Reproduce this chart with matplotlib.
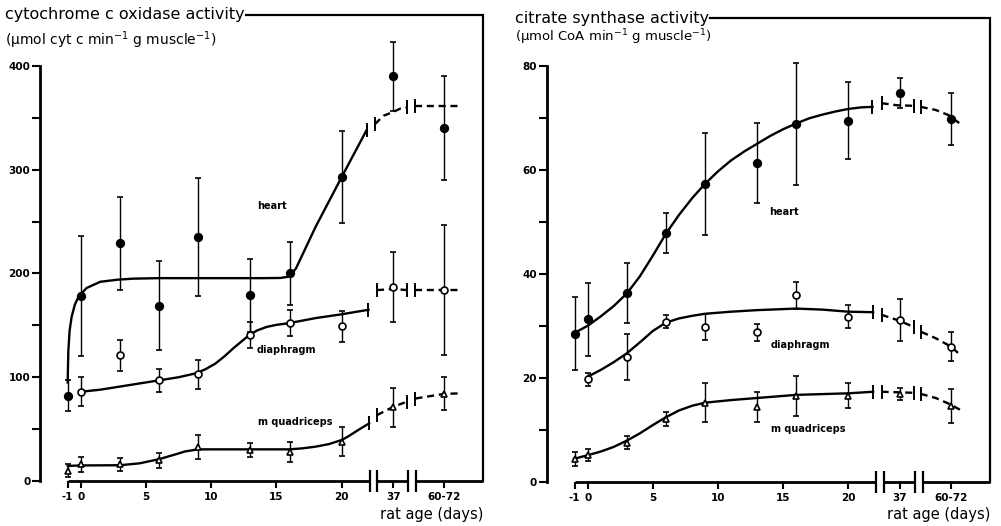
import numpy as np
import matplotlib
matplotlib.use('Agg')
import matplotlib.pyplot as plt

# rat age categories and where they sit on the broken x axis
ages = ['-1', '0', '3', '6', '9', '13', '16', '20', '37', '60-72']
age_pos = [-1, 0, 3, 6, 9, 13, 16, 20, 23.95, 27.85]
tick_labels = ['-1', '0', '5', '10', '15', '20', '37', '60-72']
tick_pos = [-1, 0, 5, 10, 15, 20, 23.95, 27.85]
axis_segments = [(-1, 22.15), (22.7, 25.1), (25.7, 30.85)]
axis_end = 30.85

nan = np.nan

# ---- cytochrome c oxidase activity (left panel) ----
cox_heart = [82, 178, 229, 169, 235, 179, 200, 293, 390, 340]
cox_heart_err = [15, 58, 45, 43, 57, 35, 30, 44, 33, 50]
cox_diaph = [nan, 86, 121, 97, 103, 141, 152, 149, 187, 184]
cox_diaph_err = [nan, 14, 15, 11, 14, 12.5, 12.5, 15, 34, 63]
cox_quad = [10, 16, 16, 20, 33, 30, 28, 38, 71, 84]
cox_quad_err = [6, 7, 6, 7, 11.5, 6.5, 9.5, 14, 18.5, 16]

# fitted curves (solid part, dashed part before and after the second break)
cox_heart_solid_x = [-1.0, -0.95, -0.85, -0.7, -0.45, -0.15, 0.45, 1.5, 2.8, 4, 6, 10, 14, 15.3, 16, 16.5,
                     18, 20, 21.9]
cox_heart_solid_y = [95, 125, 145, 158, 170, 178, 186, 192, 194, 195, 195.5, 195.5, 195.5, 195.7, 197, 205,
                     245, 293, 338]
cox_heart_dash_a_x = [22.55, 23.2, 24.0, 24.5, 25.0]
cox_heart_dash_a_y = [344, 352, 356, 359, 360]
cox_heart_dash_b_x = [25.6, 27.85, 29.2]
cox_heart_dash_b_y = [361, 361, 361]

cox_diaph_solid_x = [0, 1.5, 3, 4.5, 6, 7.5, 8.9, 9.6, 10.3, 11.0, 11.7, 12.85, 13.5, 14.25, 15, 15.9, 18,
                     19.9, 22.05]
cox_diaph_solid_y = [86, 88, 91, 94, 97, 100, 104, 108, 113, 120, 128, 140, 145, 148.5, 150.5, 152, 157,
                     160.5, 165]
cox_diaph_dash_a_x = [22.7, 24.0, 25.0]
cox_diaph_dash_a_y = [184, 185, 184]
cox_diaph_dash_b_x = [25.6, 27.85, 29.2]
cox_diaph_dash_b_y = [184, 184, 184]

cox_quad_solid_x = [-1, 0, 3, 4.5, 6, 7.35, 8, 9, 11, 13, 16, 17, 17.95, 19, 20, 20.5, 21.0, 21.5, 22.1]
cox_quad_solid_y = [14.5, 15, 15.2, 17, 21, 26, 28.5, 30.5, 30.5, 30.5, 30.5, 31.5, 33, 35.5, 39.5, 43,
                    47, 51, 55.5]
cox_quad_dash_a_x = [22.7, 23.95, 25.0]
cox_quad_dash_a_y = [63.5, 71.5, 76.5]
cox_quad_dash_b_x = [25.65, 27.85, 29.2]
cox_quad_dash_b_y = [79.5, 84, 84.5]

# ---- citrate synthase activity (right panel) ----
cs_heart = [28.5, 31.2, 36.3, 47.8, 57.2, 61.3, 68.8, 69.4, 74.7, 69.8]
cs_heart_err = [7, 7, 5.8, 3.8, 9.8, 7.7, 11.7, 7.4, 2.9, 5]
cs_diaph = [nan, 19.7, 24.0, 30.8, 29.8, 28.7, 35.9, 31.7, 31.1, 26.0]
cs_diaph_err = [nan, 1.2, 4.5, 1.3, 2.5, 1.7, 2.6, 2.2, 4, 2.8]
cs_quad = [4.4, 5.1, 7.5, 12.1, 15.2, 14.3, 16.5, 16.5, 16.9, 14.6]
cs_quad_err = [1.3, 1.1, 1.2, 1.3, 3.8, 2.9, 3.8, 2.4, 1.1, 3.3]

cs_heart_solid_x = [-1.1, 0, 1, 2, 3, 4, 5, 6, 7, 8, 9, 10, 11, 12, 13, 14, 15, 16, 17, 18, 19, 20, 21,
                    21.85]
cs_heart_solid_y = [28.5, 30, 31.8, 33.8, 36.2, 39.5, 43.5, 47.7, 51.3, 54.5, 57.3, 59.7, 61.8, 63.5, 65.0,
                    66.5, 67.8, 68.9, 69.9, 70.6, 71.2, 71.7, 72.0, 72.1]
cs_heart_dash_a_x = [22.55, 23.75, 25.0]
cs_heart_dash_a_y = [72.8, 72.4, 72.3]
cs_heart_dash_b_x = [25.55, 26.7, 27.7, 28.6]
cs_heart_dash_b_y = [72.1, 71.5, 70.5, 68.8]

cs_diaph_solid_x = [0, 1, 2, 3, 4, 5, 6, 7, 8, 9, 11, 13, 16, 18, 20, 21.9]
cs_diaph_solid_y = [20.2, 21.5, 23, 24.7, 26.8, 29, 30.6, 31.4, 31.9, 32.3, 32.7, 33.0, 33.3, 33.1, 32.7,
                    32.6]
cs_diaph_dash_a_x = [22.55, 23.75, 25.0]
cs_diaph_dash_a_y = [32.1, 31.1, 29.8]
cs_diaph_dash_b_x = [25.6, 26.7, 27.8, 28.6]
cs_diaph_dash_b_y = [28.8, 27.6, 26.1, 24.4]

cs_quad_solid_x = [-1.05, 0, 1, 2, 3, 4, 5, 6, 7, 8, 9, 11, 13, 16, 20, 21.9]
cs_quad_solid_y = [4.4, 5.1, 5.8, 6.7, 7.9, 9.3, 10.9, 12.4, 13.7, 14.6, 15.2, 15.7, 16.1, 16.7, 17.0, 17.3]
cs_quad_dash_a_x = [22.55, 23.75, 25.0]
cs_quad_dash_a_y = [17.3, 17.2, 17.1]
cs_quad_dash_b_x = [25.55, 26.7, 27.8, 28.6]
cs_quad_dash_b_y = [16.9, 16.1, 14.9, 13.8]

W, H = 1001, 526
fig = plt.figure(figsize=(W / 100, H / 100), dpi=100)
plt.rcParams['font.family'] = 'DejaVu Sans'


def add_px_axes(left, bottom, width, height):
    return fig.add_axes([left / W, 1 - bottom / H, width / W, height / H])


def draw_series(ax, vals, errs, marker, mfc, ms, curve):
    ax.errorbar(age_pos, vals, yerr=errs, fmt=marker, ms=ms, mfc=mfc, mec='k', mew=1.2,
                ecolor='k', elinewidth=1.0, capsize=2.5, capthick=1.0, zorder=3)
    sx, sy, ax_, ay, bx, by = curve
    ax.plot(sx, sy, color='k', lw=1.7, zorder=2)
    ax.plot(ax_, ay, color='k', lw=1.7, ls=(0, (3, 2)), zorder=2)
    ax.plot(bx, by, color='k', lw=1.7, ls=(0, (3, 2)), zorder=2)
    # little bars where the curve is broken
    ax.plot([sx[-1], ax_[0], ax_[-1], bx[0]], [sy[-1], ay[0], ay[-1], by[0]],
            'k|', ms=10, mew=1.4, zorder=2)


def style_axis(ax, ytop, major, minor, frame_y, title):
    for s in ['top', 'right', 'bottom']:
        ax.spines[s].set_visible(False)
    ax.spines['left'].set_linewidth(2)
    ax.spines['left'].set_bounds(0, ytop)
    ax.set_yticks(major)
    ax.set_yticks(minor, minor=True)
    ax.tick_params(axis='y', which='both', direction='out', length=6, width=1.5, pad=1,
                   labelsize=7.5)
    for lab in ax.get_yticklabels():
        lab.set_fontweight('bold')
    ax.set_xticks(tick_pos, tick_labels)
    ax.tick_params(axis='x', direction='out', length=5, width=1.5, pad=3, labelsize=7.5)
    for lab in ax.get_xticklabels():
        lab.set_fontweight('bold')
    for a, b in axis_segments:
        ax.plot([a, b], [0, 0], color='k', lw=2, clip_on=False, solid_capstyle='butt')
    brk = [axis_segments[0][1], axis_segments[1][0], axis_segments[1][1], axis_segments[2][0]]
    ax.plot(brk, [0] * 4, 'k|', ms=16, mew=1.6, clip_on=False)
    # frame from the end of the title round to the x axis
    fig.canvas.draw()
    bb = title.get_window_extent()
    x0 = ax.transData.inverted().transform((bb.x1 + 1, 0))[0]
    ax.plot([x0, axis_end, axis_end], [frame_y, frame_y, 0], color='k', lw=1.6,
            clip_on=False, solid_joinstyle='miter')


# left panel
ax1 = add_px_axes(40, 481, 451.8, 469)
ax1.set_xlim(-3.12, 31.5)
ax1.set_ylim(0, 452)
t1 = fig.text(5 / W, 1 - 15 / H, 'cytochrome c oxidase activity', fontsize=11.5, va='center')
fig.text(5 / W, 1 - 40 / H, '(µmol cyt c min$^{-1}$ g muscle$^{-1}$)', fontsize=10, va='center')

draw_series(ax1, cox_heart, cox_heart_err, 'o', 'k', 5.5,
            (cox_heart_solid_x, cox_heart_solid_y, cox_heart_dash_a_x, cox_heart_dash_a_y,
             cox_heart_dash_b_x, cox_heart_dash_b_y))
draw_series(ax1, cox_diaph, cox_diaph_err, 'o', 'w', 5,
            (cox_diaph_solid_x, cox_diaph_solid_y, cox_diaph_dash_a_x, cox_diaph_dash_a_y,
             cox_diaph_dash_b_x, cox_diaph_dash_b_y))
draw_series(ax1, cox_quad, cox_quad_err, '^', 'w', 4.5,
            (cox_quad_solid_x, cox_quad_solid_y, cox_quad_dash_a_x, cox_quad_dash_a_y,
             cox_quad_dash_b_x, cox_quad_dash_b_y))
ax1.text(13.5, 265, 'heart', fontsize=7, fontweight='bold', va='center')
ax1.text(13.5, 126, 'diaphragm', fontsize=7, fontweight='bold', va='center')
ax1.text(13.6, 57, 'm quadriceps', fontsize=7, fontweight='bold', va='center')
style_axis(ax1, 400, [0, 100, 200, 300, 400], [50, 150, 250, 350], 449.2, t1)
fig.text(483 / W, 1 - 515 / H, 'rat age (days)', fontsize=10.5, ha='right', va='center')

# right panel
ax2 = add_px_axes(546.7, 481.7, 451.5, 470)
ax2.set_xlim(-3.15, 31.5)
ax2.set_ylim(0, 90.4)
t2 = fig.text(515 / W, 1 - 18 / H, 'citrate synthase activity', fontsize=11.5, va='center')
fig.text(515 / W, 1 - 37 / H, '(µmol CoA min$^{-1}$ g muscle$^{-1}$)', fontsize=9.5, va='center')

draw_series(ax2, cs_heart, cs_heart_err, 'o', 'k', 5.5,
            (cs_heart_solid_x, cs_heart_solid_y, cs_heart_dash_a_x, cs_heart_dash_a_y,
             cs_heart_dash_b_x, cs_heart_dash_b_y))
draw_series(ax2, cs_diaph, cs_diaph_err, 'o', 'w', 5,
            (cs_diaph_solid_x, cs_diaph_solid_y, cs_diaph_dash_a_x, cs_diaph_dash_a_y,
             cs_diaph_dash_b_x, cs_diaph_dash_b_y))
draw_series(ax2, cs_quad, cs_quad_err, '^', 'w', 4.5,
            (cs_quad_solid_x, cs_quad_solid_y, cs_quad_dash_a_x, cs_quad_dash_a_y,
             cs_quad_dash_b_x, cs_quad_dash_b_y))
ax2.text(13.9, 51.9, 'heart', fontsize=7, fontweight='bold', va='center')
ax2.text(14.0, 26.2, 'diaphragm', fontsize=7, fontweight='bold', va='center')
ax2.text(14.1, 10.1, 'm quadriceps', fontsize=7, fontweight='bold', va='center')
style_axis(ax2, 80, [0, 20, 40, 60, 80], [10, 30, 50, 70], 89.1, t2)
fig.text(990 / W, 1 - 515 / H, 'rat age (days)', fontsize=10.5, ha='right', va='center')

fig.savefig('out.png', dpi=100)
